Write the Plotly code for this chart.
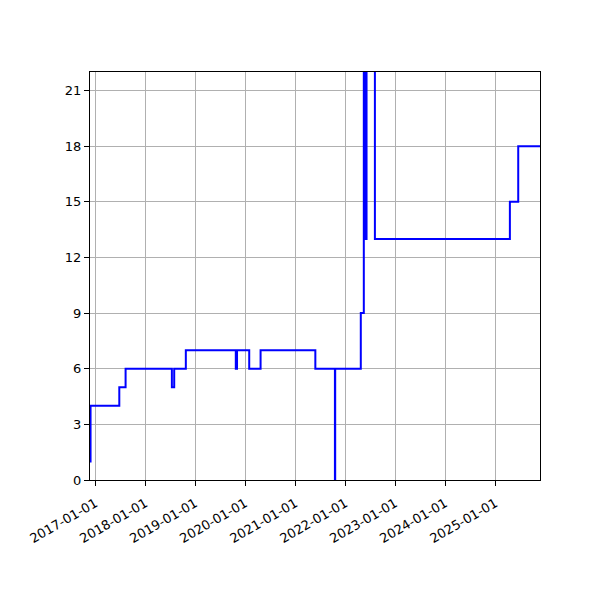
import plotly.graph_objects as go

# change points of the step series
dates = [
    "2016-11-23", "2016-11-27", "2017-06-25", "2017-08-10",
    "2018-07-14", "2018-07-31", "2018-10-24", "2019-10-24",
    "2019-11-02", "2020-01-30", "2020-04-22", "2021-05-27",
    "2021-10-17", "2021-10-19", "2022-04-24", "2022-05-16",
    "2022-05-23", "2022-06-05", "2022-08-05", "2025-04-17",
    "2025-06-17", "2025-11-23",
]
values = [1, 4, 5, 6, 5, 6, 7, 6, 7, 6, 7, 6, 0, 6, 9, 25, 13, 26, 13, 15, 18, 18]

y_ticks = [0, 3, 6, 9, 12, 15, 18, 21]

fig = go.Figure()
fig.add_trace(go.Scatter(
    x=dates, y=values, mode="lines", line_shape="hv",
    line=dict(color="#0000ff", width=2),
))

axis_style = dict(
    showline=True, linecolor="black", linewidth=1, mirror=True,
    ticks="outside", ticklen=5, tickcolor="black", automargin=False,
    showgrid=True, gridcolor="#b0b0b0", gridwidth=1, zeroline=False,
)
fig.update_xaxes(
    range=[dates[0], dates[-1]], tickformat="%Y-%m-%d",
    tick0="2017-01-01", dtick="M12", tickangle=-30,
    ticklabelstandoff=5, **axis_style,
)
fig.update_yaxes(range=[0, 22], tickvals=y_ticks, **axis_style)

# page body adds ~8px, so margins are shifted to compensate
fig.update_layout(
    width=600, height=600, showlegend=False,
    plot_bgcolor="white", paper_bgcolor="white",
    margin=dict(l=82, r=68, t=64, b=128),
    font=dict(family="DejaVu Sans", size=13, color="black"),
)

fig.write_html("out.html")
